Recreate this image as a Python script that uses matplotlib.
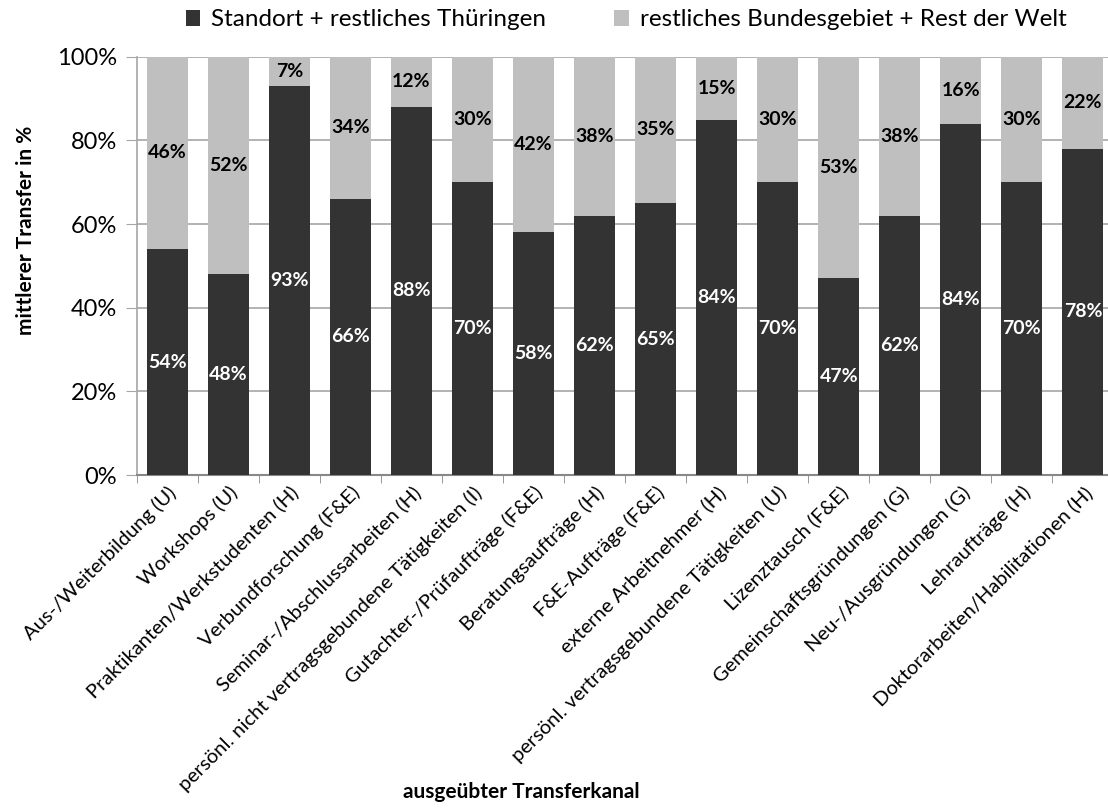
import numpy as np
import matplotlib
matplotlib.use("Agg")
import matplotlib.pyplot as plt

plt.rcParams["font.family"] = ["Lato", "DejaVu Sans"]

# Transferkanäle (x-Achse)
kanaele = [
    "Aus-/Weiterbildung (U)",
    "Workshops (U)",
    "Praktikanten/Werkstudenten (H)",
    "Verbundforschung (F&E)",
    "Seminar-/Abschlussarbeiten (H)",
    "persönl. nicht vertragsgebundene Tätigkeiten (I)",
    "Gutachter-/Prüfaufträge (F&E)",
    "Beratungsaufträge (H)",
    "F&E-Aufträge (F&E)",
    "externe Arbeitnehmer (H)",
    "persönl. vertragsgebundene Tätigkeiten (U)",
    "Lizenztausch (F&E)",
    "Gemeinschaftsgründungen (G)",
    "Neu-/Ausgründungen (G)",
    "Lehraufträge (H)",
    "Doktorarbeiten/Habilitationen (H)",
]

# mittlerer Transfer in % (wie beschriftet)
thueringen = [54, 48, 93, 66, 88, 70, 58, 62, 65, 84, 70, 47, 62, 84, 70, 78]
rest_welt = [46, 52, 7, 34, 12, 30, 42, 38, 35, 15, 30, 53, 38, 16, 30, 22]

serien = ["Standort + restliches Thüringen", "restliches Bundesgebiet + Rest der Welt"]

# 100%-gestapelt wie in Excel
a = np.array(thueringen, dtype=float)
b = np.array(rest_welt, dtype=float)
summe = a + b
a_n = a / summe * 100
b_n = b / summe * 100

fig = plt.figure(figsize=(11.08, 8.08), dpi=100)
W, H = 1108, 808
ax = fig.add_axes([136.7 / W, 1 - 475 / H, (1113.4 - 136.7) / W, (475 - 56.7) / H])

x = np.arange(len(kanaele))
breite = 0.675
dunkel = "#333333"
hell = "#BFBFBF"

ax.bar(x, a_n, breite, color=dunkel, label=serien[0], zorder=3)
ax.bar(x, b_n, breite, bottom=a_n, color=hell, label=serien[1], zorder=3)

# Wertbeschriftungen in der Mitte der Segmente
for i in range(len(kanaele)):
    ax.text(x[i], a_n[i] / 2, f"{thueringen[i]}%", ha="center", va="center",
            color="white", fontsize=14, fontweight="bold", zorder=4)
    ax.text(x[i], a_n[i] + b_n[i] / 2, f"{rest_welt[i]}%", ha="center", va="center",
            color="black", fontsize=14, fontweight="bold", zorder=4)

ax.set_xlim(-0.5, len(kanaele) - 0.5)
ax.set_ylim(0, 100)
ax.set_yticks(np.arange(0, 101, 20))
ax.set_yticklabels([f"{v}%" for v in range(0, 101, 20)], fontsize=17)
ax.yaxis.grid(True, color="#A6A6A6", linewidth=1.2, zorder=0)

ax.set_xticks(np.arange(len(kanaele) + 1) - 0.5, minor=True)
ax.set_xticks(x)
ax.set_xticklabels(kanaele, rotation=45, ha="right", rotation_mode="anchor", fontsize=14.5)
ax.tick_params(axis="x", which="major", length=0, pad=6)
ax.tick_params(axis="x", which="minor", length=6, color="#888888", direction="out")
ax.tick_params(axis="y", length=8, color="#A6A6A6", pad=6)

for s in ["top", "right"]:
    ax.spines[s].set_visible(False)
ax.spines["left"].set_color("#A6A6A6")
ax.spines["bottom"].set_color("#888888")
ax.spines["left"].set_linewidth(1.2)
ax.spines["bottom"].set_linewidth(1.5)

ax.set_ylabel("mittlerer Transfer in %", fontsize=15, fontweight="bold")
ax.yaxis.set_label_coords((36 - 136.7) / 976.7, (475 - 230) / 418.3)
fig.text(521 / W, 1 - 792 / H, "ausgeübter Transferkanal", ha="center", va="center",
         fontsize=15, fontweight="bold")

fig.legend(loc="center", bbox_to_anchor=(626 / W, 1 - 20 / H), ncol=2, frameon=False,
           fontsize=17.5, handlelength=0.6, handleheight=0.6, handletextpad=0.45,
           columnspacing=2.8)

fig.savefig("out.png", dpi=100)
